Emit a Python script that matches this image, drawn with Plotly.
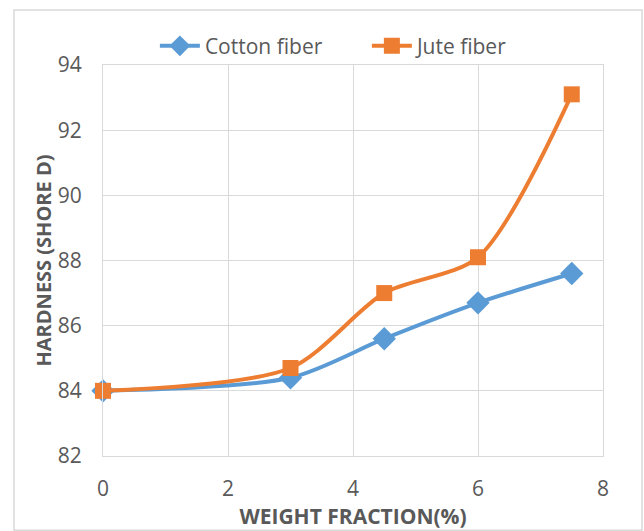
import plotly.graph_objects as go

# Hardness vs. fibre weight fraction
weight_fraction = [0, 3, 4.5, 6, 7.5]
cotton_hardness = [84.0, 84.4, 85.6, 86.7, 87.6]
jute_hardness = [84.0, 84.7, 87.0, 88.1, 93.1]

x_ticks = [0, 2, 4, 6, 8]
y_ticks = [82, 84, 86, 88, 90, 92, 94]

BLUE = "#5B9BD5"
ORANGE = "#ED7D31"
GRID = "#D9D9D9"
TEXT = "#595959"
FONT = "Open Sans"

fig = go.Figure()
fig.add_trace(go.Scatter(
    x=weight_fraction, y=cotton_hardness, name="Cotton fiber",
    mode="lines+markers", cliponaxis=False,
    line=dict(color=BLUE, width=4, shape="spline", smoothing=0.8),
    marker=dict(symbol="diamond", size=18, color=BLUE),
))
fig.add_trace(go.Scatter(
    x=weight_fraction, y=jute_hardness, name="Jute fiber",
    mode="lines+markers", cliponaxis=False,
    line=dict(color=ORANGE, width=4, shape="spline", smoothing=0.8),
    marker=dict(symbol="square", size=16, color=ORANGE),
))

fig.update_layout(
    width=644, height=531,
    margin=dict(l=103, r=41, t=65, b=75, autoexpand=False),
    paper_bgcolor="white", plot_bgcolor="white",
    font=dict(family=FONT, color=TEXT, size=21),
    showlegend=True,
    legend=dict(
        orientation="h", xref="container", yref="container",
        x=0.2405, y=0.913, xanchor="left", yanchor="middle",
        font=dict(size=21, color=TEXT), itemwidth=40, bgcolor="rgba(0,0,0,0)",
        entrywidth=157, entrywidthmode="pixels",
    ),
    xaxis=dict(
        range=[0, 8], tickvals=x_ticks, showgrid=True, gridcolor=GRID, gridwidth=1,
        showline=True, linecolor=GRID, linewidth=1, mirror=True, zeroline=False,
        tickfont=dict(size=21, color=TEXT), ticklabelstandoff=14,
        title=dict(text="<b>WEIGHT FRACTION(%)</b>", font=dict(size=21, color=TEXT), standoff=6),
    ),
    yaxis=dict(
        range=[82, 94], tickvals=y_ticks, showgrid=True, gridcolor=GRID, gridwidth=1,
        showline=True, linecolor=GRID, linewidth=1, mirror=True, zeroline=False,
        tickfont=dict(size=21, color=TEXT), ticklabelstandoff=16,
        title=dict(text="<b>HARDNESS (SHORE D)</b>", font=dict(size=20, color=TEXT), standoff=0),
    ),
    shapes=[dict(
        type="rect", xref="paper", yref="paper",
        x0=-0.178, x1=1.078, y0=-0.19, y1=1.1407,
        line=dict(color=GRID, width=1.5), fillcolor="rgba(0,0,0,0)", layer="below",
    )],
)

fig.write_html("out.html")
